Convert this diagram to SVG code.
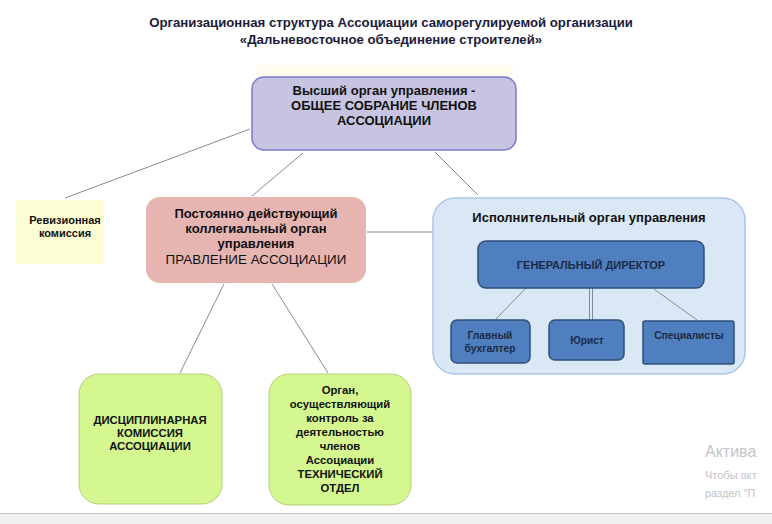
<svg xmlns="http://www.w3.org/2000/svg" width="772" height="524" viewBox="0 0 772 524">
<style>
text{font-family:"Liberation Sans",Arial,sans-serif;text-anchor:middle}
.t{font-size:13.2px;font-weight:bold;fill:#1b1b3a}
.b{font-size:13px;font-weight:bold;fill:#111}
.s{font-size:11.3px;font-weight:bold;fill:#111}
.w{font-size:10.2px;font-weight:bold;fill:#1a2a48}
.c line{stroke:#8a8a9a;stroke-width:1}
.ci line{stroke:#7a8ea8;stroke-width:1}
.blue{fill:#4f7fbe;stroke:#2f507a;stroke-width:1.5}
.green{fill:#d4f78f;stroke:#b6cf7a;stroke-width:1}
.wm{text-anchor:start;fill:#c4c4c4}
</style>
<rect width="772" height="524" fill="#fff"/>
<g id="title">
<text class="t" x="391" y="27">Организационная структура Ассоциации саморегулируемой организации</text>
<text class="t" x="391" y="44">«Дальневосточное объединение строителей»</text>
</g>
<rect x="257" y="65" width="256" height="13" fill="#fffcee"/>
<g class="c" id="connectors">
<line x1="250" y1="129" x2="65" y2="198"/>
<line x1="303" y1="153" x2="252" y2="196"/>
<line x1="435" y1="152" x2="478" y2="195"/>
<line x1="367" y1="232" x2="433" y2="232"/>
<line x1="224" y1="284" x2="180" y2="373"/>
<line x1="272" y1="284" x2="328" y2="373"/>
</g>
<g id="n-top">
<rect x="252" y="77" width="264" height="73" rx="12" fill="#c6c4e0" stroke="#7d79c8" stroke-width="1.5"/>
<text class="b" x="384" y="95">Высший орган управления -</text>
<text class="b" x="384" y="110">ОБЩЕЕ СОБРАНИЕ ЧЛЕНОВ</text>
<text class="b" x="384" y="125">АССОЦИАЦИИ</text>
</g>
<g id="n-rev">
<rect x="16" y="200" width="88" height="64" fill="#fdfdd4"/>
<text class="s" x="65" y="224" style="font-size:11px">Ревизионная</text>
<text class="s" x="65" y="237" style="font-size:11px">комиссия</text>
</g>
<g id="n-board">
<rect x="146" y="197" width="220" height="86" rx="14" fill="#e7b5b1"/>
<text class="b" x="256" y="218">Постоянно действующий</text>
<text class="b" x="256" y="233">коллегиальный орган</text>
<text class="b" x="256" y="248">управления</text>
<text x="256" y="264" style="font-size:13.4px;fill:#111">ПРАВЛЕНИЕ АССОЦИАЦИИ</text>
</g>
<g id="n-exec">
<rect x="433" y="198" width="312" height="176" rx="22" fill="#dae8f6" stroke="#aac6ea" stroke-width="1.5"/>
<text class="b" x="589" y="222">Исполнительный орган управления</text>
</g>
<g class="ci" id="connectors-exec">
<line x1="526" y1="288" x2="495" y2="320"/>
<line x1="589.5" y1="288" x2="589.5" y2="320"/>
<line x1="592.5" y1="288" x2="592.5" y2="320"/>
<line x1="654" y1="289" x2="697" y2="320"/>
</g>
<g id="n-gd">
<rect x="478" y="241" width="226" height="47" rx="8" class="blue"/>
<text class="w" x="591" y="269" style="font-size:11px">ГЕНЕРАЛЬНЫЙ ДИРЕКТОР</text>
</g>
<g id="n-acc">
<rect x="451" y="320" width="79" height="43" rx="6" class="blue"/>
<text class="w" x="490" y="339">Главный</text>
<text class="w" x="490" y="352">бухгалтер</text>
</g>
<g id="n-law">
<rect x="549" y="320" width="75" height="40" rx="6" class="blue"/>
<text class="w" x="587" y="344">Юрист</text>
</g>
<g id="n-spec">
<rect x="643" y="321" width="91" height="43" rx="2" class="blue"/>
<text class="w" x="689" y="339">Специалисты</text>
</g>
<g id="n-disc">
<rect x="79" y="374" width="143" height="130" rx="20" class="green"/>
<text class="s" x="150" y="424">ДИСЦИПЛИНАРНАЯ</text>
<text class="s" x="150" y="437">КОМИССИЯ</text>
<text class="s" x="150" y="450">АССОЦИАЦИИ</text>
</g>
<g id="n-tech">
<rect x="269" y="374" width="142" height="131" rx="20" class="green"/>
<text class="s" x="340" y="394">Орган,</text>
<text class="s" x="340" y="408">осуществляющий</text>
<text class="s" x="340" y="422">контроль за</text>
<text class="s" x="340" y="436">деятельностью</text>
<text class="s" x="340" y="450">членов</text>
<text class="s" x="340" y="464">Ассоциации</text>
<text class="s" x="340" y="478">ТЕХНИЧЕСКИЙ</text>
<text class="s" x="340" y="492">ОТДЕЛ</text>
</g>
<g id="watermark">
<text class="wm" x="705" y="457" style="font-size:16px">Актива</text>
<text class="wm" x="705" y="479" style="font-size:11px">Чтобы акт</text>
<text class="wm" x="705" y="497" style="font-size:11px">раздел "П</text>
</g>
<rect x="0" y="514" width="772" height="10" fill="#f0f0f0"/>
<line x1="0" y1="513.5" x2="772" y2="513.5" stroke="#c4c4c4"/>
</svg>
